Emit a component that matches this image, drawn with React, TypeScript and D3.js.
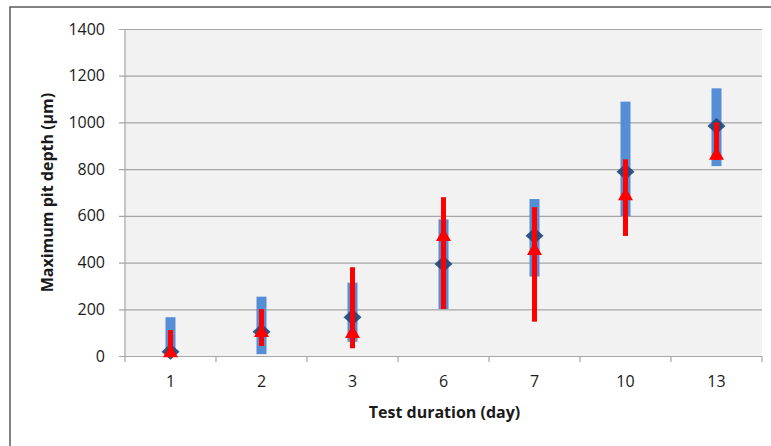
import React, { useEffect, useRef } from 'react';
import * as d3 from 'd3';

const days = ['1', '2', '3', '6', '7', '10', '13'];
const blueMin = [0, 8, 61, 201, 340, 599, 813];
const blueMax = [166, 254, 314, 585, 672, 1089, 1146];
const blueMean = [18, 104, 166, 394, 515, 789, 985];
const redMin = [8, 43, 33, 201, 147, 514, 839];
const redMax = [111, 201, 380, 680, 637, 842, 1000];
const redMean = [20, 107, 103, 518, 458, 693, 866];
const yTicks = [0, 200, 400, 600, 800, 1000, 1200, 1400];

const App: React.FC = () => {
  const svgRef = useRef<SVGSVGElement>(null);
  const width = 771;
  const height = 446;

  useEffect(() => {
    if (!svgRef.current) return;
    const svg = d3.select(svgRef.current);
    svg.selectAll('*').remove();

    const margin = { top: 29, right: 9, bottom: 90, left: 125 };
    const innerWidth = width - margin.left - margin.right;
    const innerHeight = height - margin.top - margin.bottom;
    const font = "'Open Sans', sans-serif";

    const colors = {
      plotBg: '#f2f2f2',
      grid: '#a6a6a6',
      blue: '#558ed5',
      navy: '#1f497d',
      red: '#ff0000',
      text: '#1a1a1a',
      frame: '#595959'
    };

    svg.append('rect').attr('width', width).attr('height', height).attr('fill', '#fff');

    // outer chart frame (runs off the right and bottom of the picture)
    svg.append('rect')
      .attr('x', 10).attr('y', 7).attr('width', width + 10).attr('height', height + 10)
      .attr('fill', 'none').attr('stroke', colors.frame).attr('stroke-width', 1.5);

    const x = d3.scaleBand().domain(days).range([0, innerWidth]);
    const y = d3.scaleLinear().domain([0, 1400]).range([innerHeight, 0]);

    const g = svg.append('g').attr('transform', `translate(${margin.left},${margin.top})`);

    g.append('rect').attr('width', innerWidth).attr('height', innerHeight).attr('fill', colors.plotBg);

    // gridlines + y ticks
    const yAxis = g.append('g')
      .call(d3.axisLeft(y).tickValues(yTicks).tickFormat(d3.format('d')).tickSize(-innerWidth).tickSizeOuter(0).tickPadding(20))
      .attr('font-family', font).attr('font-size', 16);
    yAxis.select('.domain').remove();
    yAxis.selectAll('.tick line').attr('stroke', colors.grid).attr('x1', -6).attr('stroke-width', 1.2);
    yAxis.selectAll('.tick text').attr('fill', colors.text);

    g.append('line').attr('x1', 0).attr('x2', 0).attr('y1', 0).attr('y2', innerHeight)
      .attr('stroke', colors.grid).attr('stroke-width', 1.2);

    // x axis: ticks at category boundaries
    const bounds = days.map(d => x(d) as number).concat([innerWidth]);
    const xg = g.append('g').attr('transform', `translate(0,${innerHeight})`);
    xg.selectAll('line.tk').data(bounds).enter().append('line')
      .attr('x1', d => d).attr('x2', d => d).attr('y1', 0).attr('y2', 6)
      .attr('stroke', colors.grid).attr('stroke-width', 1.2);
    xg.selectAll('text').data(days).enter().append('text')
      .attr('x', d => (x(d) as number) + x.bandwidth() / 2).attr('y', 31)
      .attr('text-anchor', 'middle').attr('font-family', font).attr('font-size', 16)
      .attr('fill', colors.text).text(d => d);

    const cx = (i: number) => (x(days[i]) as number) + x.bandwidth() / 2;
    const idx = days.map((_, i) => i);

    // series 1: blue range bars + diamonds
    g.selectAll('rect.blue').data(idx).enter().append('rect')
      .attr('x', i => cx(i) - 5).attr('width', 10)
      .attr('y', i => y(blueMax[i])).attr('height', i => y(blueMin[i]) - y(blueMax[i]))
      .attr('fill', colors.blue);

    g.selectAll('path.dia').data(idx).enter().append('path')
      .attr('d', 'M0,-8L9,0L0,8L-9,0Z')
      .attr('transform', i => `translate(${cx(i)},${y(blueMean[i])})`)
      .attr('fill', colors.navy).attr('opacity', 0.92);

    // series 2: red range lines + triangles
    g.selectAll('line.red').data(idx).enter().append('line')
      .attr('x1', i => cx(i)).attr('x2', i => cx(i))
      .attr('y1', i => y(redMax[i])).attr('y2', i => y(redMin[i]))
      .attr('stroke', colors.red).attr('stroke-width', 5);

    g.selectAll('path.tri').data(idx).enter().append('path')
      .attr('d', 'M0,-7L7.5,6L-7.5,6Z')
      .attr('transform', i => `translate(${cx(i)},${y(redMean[i])})`)
      .attr('fill', colors.red);

    // axis titles
    svg.append('text')
      .attr('x', margin.left + innerWidth / 2 + 1).attr('y', 418).attr('text-anchor', 'middle')
      .attr('font-family', font).attr('font-weight', 'bold').attr('font-size', 16)
      .attr('fill', colors.text).text('Test duration (day)');

    svg.append('text')
      .attr('transform', `translate(53,${margin.top + innerHeight / 2}) rotate(-90)`)
      .attr('text-anchor', 'middle')
      .attr('font-family', font).attr('font-weight', 'bold').attr('font-size', 16)
      .attr('fill', colors.text).text('Maximum pit depth (µm)');
  }, []);

  return (
    <svg ref={svgRef} width={width} height={height} viewBox={`0 0 ${width} ${height}`}
      style={{ position: 'absolute', left: 0, top: 0, display: 'block' }} />
  );
};

export default App;
